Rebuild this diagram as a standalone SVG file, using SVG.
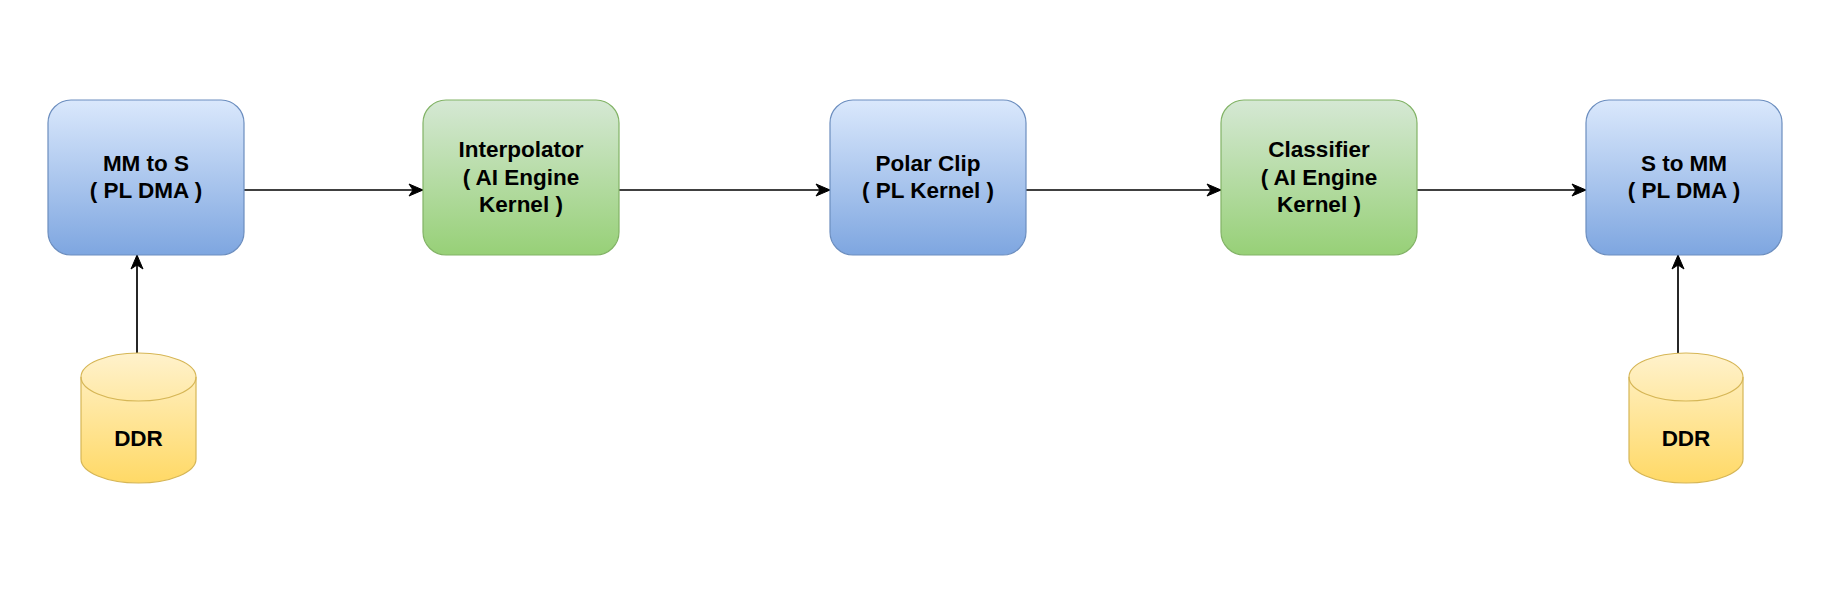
<svg xmlns="http://www.w3.org/2000/svg" width="1828" height="593" viewBox="0 0 1828 593">
<style>
.blue{fill:url(#gBlue);stroke:#6c8ebf;stroke-width:1.2}
.green{fill:url(#gGreen);stroke:#82b366;stroke-width:1.2}
.db{fill:url(#gYellow);stroke:#d6b656;stroke-width:1.2}
.lbl{font-family:"Liberation Sans",Arial,sans-serif;font-weight:bold;font-size:22.5px;fill:#000;text-anchor:middle}
.edge{fill:none;stroke:#000;stroke-width:1.7;marker-end:url(#arrow)}
</style>
<defs>
<linearGradient id="gBlue" x1="0" y1="0" x2="0" y2="1"><stop offset="0" stop-color="#dae8fc"/><stop offset="1" stop-color="#7ea6e0"/></linearGradient>
<linearGradient id="gGreen" x1="0" y1="0" x2="0" y2="1"><stop offset="0" stop-color="#d5e8d4"/><stop offset="1" stop-color="#97d077"/></linearGradient>
<linearGradient id="gYellow" x1="0" y1="0" x2="0" y2="1"><stop offset="0" stop-color="#fff2cc"/><stop offset="1" stop-color="#ffd966"/></linearGradient>
<marker id="arrow" markerUnits="userSpaceOnUse" markerWidth="16" markerHeight="14" viewBox="0 0 16 14" refX="15" refY="7" orient="auto">
<path d="M1,1 L15,7 L1,13 L5,7 Z" fill="#000" stroke="#000" stroke-width="1"/>
</marker>
</defs>
<rect width="1828" height="593" fill="#fff"/>
<g id="connectors">
<path class="edge" d="M244,190 L423,190"/>
<path class="edge" d="M619,190 L830,190"/>
<path class="edge" d="M1026,190 L1221,190"/>
<path class="edge" d="M1417,190 L1586,190"/>
<path class="edge" d="M137,353 L137,255"/>
<path class="edge" d="M1678,353 L1678,255"/>
</g>
<g id="mm2s">
<rect class="blue" x="48" y="100" width="196" height="155" rx="23" ry="23"/>
<text class="lbl" x="146" y="171">MM to S</text>
<text class="lbl" x="146" y="198">( PL DMA )</text>
</g>
<g id="interpolator">
<rect class="green" x="423" y="100" width="196" height="155" rx="23" ry="23"/>
<text class="lbl" x="521" y="157">Interpolator</text>
<text class="lbl" x="521" y="185">( AI Engine</text>
<text class="lbl" x="521" y="212">Kernel )</text>
</g>
<g id="polarclip">
<rect class="blue" x="830" y="100" width="196" height="155" rx="23" ry="23"/>
<text class="lbl" x="928" y="171">Polar Clip</text>
<text class="lbl" x="928" y="198">( PL Kernel )</text>
</g>
<g id="classifier">
<rect class="green" x="1221" y="100" width="196" height="155" rx="23" ry="23"/>
<text class="lbl" x="1319" y="157">Classifier</text>
<text class="lbl" x="1319" y="185">( AI Engine</text>
<text class="lbl" x="1319" y="212">Kernel )</text>
</g>
<g id="s2mm">
<rect class="blue" x="1586" y="100" width="196" height="155" rx="23" ry="23"/>
<text class="lbl" x="1684" y="171">S to MM</text>
<text class="lbl" x="1684" y="198">( PL DMA )</text>
</g>
<g id="ddr1">
<path class="db" d="M81,377 A57.5,24 0 0 1 196,377 L196,459 A57.5,24 0 0 1 81,459 Z"/>
<path d="M81,377 A57.5,24 0 0 0 196,377" fill="none" stroke="#d6b656" stroke-width="1.2"/>
<text class="lbl" x="138.5" y="446">DDR</text>
</g>
<g id="ddr2">
<path class="db" d="M1629,377 A57,24 0 0 1 1743,377 L1743,459 A57,24 0 0 1 1629,459 Z"/>
<path d="M1629,377 A57,24 0 0 0 1743,377" fill="none" stroke="#d6b656" stroke-width="1.2"/>
<text class="lbl" x="1686" y="446">DDR</text>
</g>
</svg>
